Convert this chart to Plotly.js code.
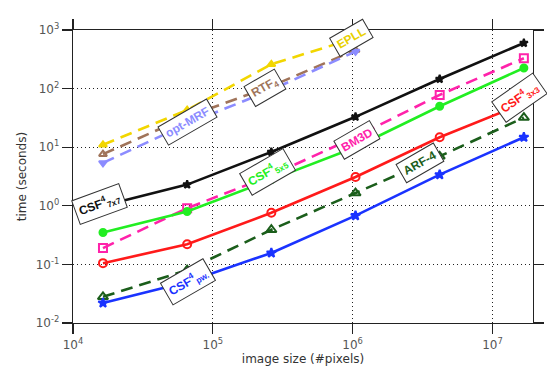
<!DOCTYPE html>
<html>
<head>
<meta charset="utf-8">
<script src="https://cdn.plot.ly/plotly-3.0.1.min.js"></script>
<style>html,body{margin:0;padding:0;background:#fff;}#chart{width:547px;height:370px;}</style>
</head>
<body>
<div id="chart"></div>
<script>
// image sizes (#pixels)
const imageSize = [16384, 65536, 262144, 1048576, 4194304, 16777216];
const imageSizeShort = [16384, 65536, 262144, 1048576];

// times (seconds)
const csf7x7 = [1.0, 2.3, 8.3, 33, 146, 600];
const bm3d   = [0.19, 0.91, 3.3, 15, 78, 330];
const csf5x5 = [0.35, 0.8, 2.8, 10, 50, 225];
const csf3x3 = [0.105, 0.22, 0.76, 3.1, 14.8, 56];
const arf4   = [0.028, 0.08, 0.39, 1.65, 7, 32];
const csfpw  = [0.022, 0.05, 0.157, 0.68, 3.4, 14.8];
const epll   = [11, 43, 260, 730];
const rtf4   = [7.6, 33, 110, 455];
const optmrf = [5.4, 25, 95, 430];

const seriesNames = ["CSF 7x7", "BM3D", "CSF 5x5", "CSF 3x3", "ARF-4", "CSF pw.", "EPLL", "RTF 4", "opt-MRF"];

// tick labels
const xTickVals = [1e4, 1e5, 1e6, 1e7];
const xTickText = ["10<sup>4</sup>", "10<sup>5</sup>", "10<sup>6</sup>", "10<sup>7</sup>"];
const yTickVals = [1e-2, 1e-1, 1e0, 1e1, 1e2, 1e3];
const yTickText = ["10<sup>-2</sup>", "10<sup>-1</sup>", "10<sup>0</sup>", "10<sup>1</sup>", "10<sup>2</sup>", "10<sup>3</sup>"];

const longDash = "12px,7px";
function tr(name, x, y, color, dash, symbol, msize) {
  return {
    type: "scatter", mode: "lines+markers", name: name, x: x, y: y,
    line: {color: color, width: 2.6, dash: dash},
    marker: {symbol: symbol, size: msize, color: color, line: {color: color, width: 2}},
    showlegend: false
  };
}

const data = [
  tr(seriesNames[6], imageSizeShort, epll, "#f2d600", longDash, "triangle-up", 7),
  tr(seriesNames[7], imageSizeShort, rtf4, "#a0745a", longDash, "triangle-up-open", 7),
  tr(seriesNames[8], imageSizeShort, optmrf, "#8c8cff", longDash, "triangle-down", 7),
  tr(seriesNames[0], imageSize, csf7x7, "#111111", "solid", "star", 6),
  tr(seriesNames[1], imageSize, bm3d, "#ff22aa", longDash, "square-open", 8),
  tr(seriesNames[2], imageSize, csf5x5, "#22ee22", "solid", "circle", 7),
  tr(seriesNames[3], imageSize, csf3x3, "#ff1a1a", "solid", "circle-open", 8),
  tr(seriesNames[4], imageSize, arf4, "#1b5e1b", longDash, "triangle-up-open", 9),
  tr(seriesNames[5], imageSize, csfpw, "#1a33ff", "solid", "star", 7)
];

function lab(text, x, y, color, angle) {
  return {
    xref: "x", yref: "y", x: x, y: y, text: text, showarrow: false,
    textangle: angle, bgcolor: "#ffffff", bordercolor: "#333333", borderwidth: 1, borderpad: 3,
    font: {family: "Liberation Sans, Arial, sans-serif", size: 12, color: color, weight: "bold"}
  };
}

const annotations = [
  lab("<b>EPLL</b>", 5.99, 2.86, "#e8d000", -30),
  lab("<b>RTF<sub>4</sub></b>", 5.37, 2.01, "#a0745a", -30),
  lab("<b>opt-MRF</b>", 4.82, 1.43, "#8c8cff", -30),
  lab("<b>BM3D</b>", 6.03, 1.12, "#ff22aa", -30),
  lab("<b>CSF<sup>4</sup><sub>5x5</sub></b>", 5.39, 0.58, "#22ee22", -30),
  lab("<b>CSF<sup>4</sup><sub>7x7</sub></b>", 4.19, 0.03, "#111111", -20),
  lab("<b>CSF<sup>4</sup><sub>3x3</sub></b>", 7.19, 1.84, "#ff1a1a", -35),
  lab("<b>ARF-4</b>", 6.48, 0.73, "#1b5e1b", -30),
  lab("<b>CSF<sup>4</sup><sub>pw.</sub></b>", 4.82, -1.3, "#1a33ff", -30)
];

const axisCommon = {
  type: "log", showline: true, linecolor: "#222", linewidth: 1.3, mirror: "ticks",
  ticks: "outside", ticklen: 10, tickwidth: 1.3, tickcolor: "#222", tickmode: "array",
  showgrid: true, gridcolor: "#222", griddash: "1px,3px", gridwidth: 1,
  zeroline: false,
  tickfont: {family: "DejaVu Sans, sans-serif", size: 12, color: "#555"}
};

const layout = {
  width: 547, height: 370,
  margin: {l: 73, r: 14, t: 30, b: 47},
  paper_bgcolor: "#fff", plot_bgcolor: "#fff",
  xaxis: Object.assign({}, axisCommon, {
    range: [4, 7.29], tickvals: xTickVals, ticktext: xTickText,
    title: {text: "image size (#pixels)", font: {family: "DejaVu Sans, sans-serif", size: 12, color: "#333"}, standoff: 2}
  }),
  yaxis: Object.assign({}, axisCommon, {
    range: [-2, 3], tickvals: yTickVals, ticktext: yTickText,
    title: {text: "time (seconds)", font: {family: "DejaVu Sans, sans-serif", size: 12, color: "#333"}, standoff: 6}
  }),
  annotations: annotations
};

Plotly.newPlot("chart", data, layout, {staticPlot: true, displayModeBar: false});
</script>
</body>
</html>
